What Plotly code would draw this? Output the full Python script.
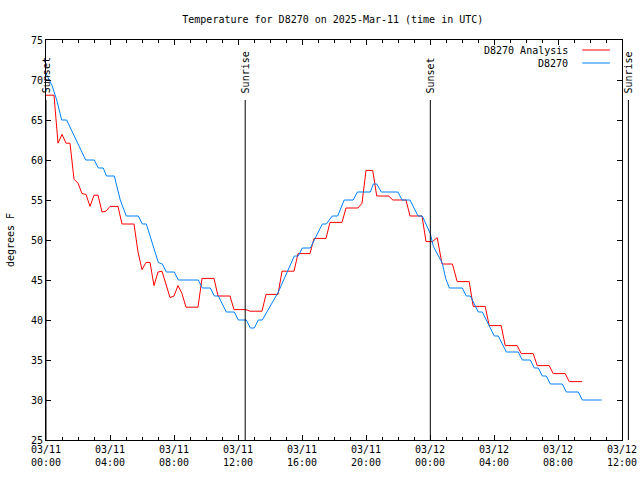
import pandas as pd
import plotly.graph_objects as go

START = pd.Timestamp("2025-03-11 00:00")
END = pd.Timestamp("2025-03-12 12:00")

# D8270 Analysis (red): hours after 03/11 00:00 UTC, degrees F
red_hours = [0, 0.5, 0.75, 1.0, 1.25, 1.5, 1.75, 2.0, 2.25, 2.5, 2.75, 3.0, 3.25, 3.5, 3.75,
             4.0, 4.5, 4.75, 5.5, 5.75, 6.0, 6.25, 6.5, 6.75, 7.0, 7.25, 7.75, 8.0, 8.25,
             8.5, 8.75, 9.5, 9.75, 10.5, 10.75, 11.5, 11.75, 12.5, 12.75, 13.5, 13.75,
             14.5, 14.75, 15.5, 15.75, 16.5, 16.75, 17.5, 17.75, 18.5, 18.75, 19.5, 19.75,
             20.0, 20.42, 20.67, 21.42, 21.67, 22.5, 22.75, 23.5, 23.75, 24.15, 24.45,
             24.75, 25.4, 25.7, 26.45, 26.7, 27.45, 27.7, 28.45, 28.7, 29.45, 29.7, 30.45,
             30.7, 31.45, 31.7, 32.45, 32.7, 33.5]
red_temps = [68.1, 68.1, 62.1, 63.2, 62.1, 62.1, 57.6, 57.1, 55.8, 55.7, 54.2, 55.6, 55.6, 53.5, 53.6,
             54.2, 54.2, 52.0, 52.0, 48.5, 46.3, 47.2, 47.2, 44.3, 46.0, 46.1, 42.8, 43.0, 44.3,
             43.3, 41.6, 41.6, 45.2, 45.2, 43.0, 43.0, 41.3, 41.3, 41.1, 41.1, 43.2,
             43.2, 46.1, 46.1, 48.3, 48.3, 50.2, 50.2, 52.2, 52.2, 54.0, 54.0, 54.6,
             58.7, 58.7, 55.5, 55.5, 55.0, 55.0, 53.0, 53.0, 49.8, 49.8, 50.3,
             47.0, 47.0, 44.8, 44.8, 41.7, 41.7, 39.3, 39.3, 36.8, 36.8, 35.8, 35.8,
             34.3, 34.3, 33.3, 33.3, 32.3, 32.3]

# D8270 observations (blue)
blue_hours = [0, 0.36, 0.67, 0.98, 1.29, 2.48, 3.02, 3.27, 3.58, 3.78, 4.27, 4.64, 5.02, 5.77,
              6.02, 6.27, 7.02, 7.27, 7.52, 8.02, 8.27, 9.52, 9.77, 10.27, 10.52, 10.77,
              11.27, 11.77, 12.02, 12.52, 12.77, 13.02, 13.27, 13.52, 14.52, 15.52, 15.77,
              16.02, 16.52, 17.27, 17.52, 17.89, 18.23, 18.64, 19.2, 19.46, 20.27, 20.46,
              20.67, 20.96, 22.0, 22.25, 22.75, 23.25, 23.52, 24.02, 24.21, 24.77, 24.98,
              25.21, 26.02, 26.27, 26.52, 27.02, 27.27, 28.02, 28.27, 28.77, 29.52, 29.77,
              30.27, 30.52, 30.77, 31.02, 31.27, 31.52, 32.27, 32.52, 33.27, 33.52, 34.73]
blue_temps = [70.8, 69.4, 67.5, 65, 65, 60, 60, 59, 59, 58, 58, 55, 53, 53,
              52, 52, 47.2, 47, 46, 46, 45, 45, 44, 44, 43, 43,
              41, 41, 40, 40, 39, 39, 40, 40, 43.5, 48, 48,
              49, 49, 52, 52, 53, 53, 55, 55, 56, 56, 57,
              57, 56, 56, 55, 55, 53, 53, 50.8, 49.2, 47.1, 45.2,
              44, 44, 43, 43, 41, 41, 38, 38, 36, 36, 35,
              35, 34, 34, 33, 33, 32, 32, 31, 31, 30, 30]

# Sun events (hours after start)
sun_labels = ["Sunset", "Sunrise", "Sunset", "Sunrise"]
sun_hours = [0.0, 12.45, 24.02, 36.4]

FONT = "DejaVu Sans Mono"
red_t = START + pd.to_timedelta(red_hours, unit="h")
blue_t = START + pd.to_timedelta(blue_hours, unit="h")

fig = go.Figure()
fig.add_trace(go.Scatter(x=red_t, y=red_temps, mode="lines", name="D8270 Analysis",
                         line=dict(color="#ff0000", width=1), showlegend=False))
fig.add_trace(go.Scatter(x=blue_t, y=blue_temps, mode="lines", name="D8270",
                         line=dict(color="#0080ff", width=1), showlegend=False))

span = (END - START).total_seconds() / 3600.0
line_top = 0.85
for lab, h in zip(sun_labels, sun_hours):
    px = h / span
    fig.add_shape(type="line", xref="paper", yref="paper", x0=px, x1=px, y0=0, y1=line_top,
                  line=dict(color="black", width=1))
    fig.add_annotation(xref="paper", yref="paper", x=px, y=line_top + 0.012, text=lab,
                       textangle=-90, showarrow=False, xanchor="center", yanchor="bottom",
                       font=dict(family=FONT, size=10, color="black"))

# legend (gnuplot style: text right-aligned, sample to the right)
leg = [("D8270 Analysis", "#ff0000", 0.975), ("D8270", "#0080ff", 0.9425)]
for txt, col, yy in leg:
    fig.add_annotation(xref="paper", yref="paper", x=0.909, y=yy, text=txt, showarrow=False,
                       xanchor="right", yanchor="middle",
                       font=dict(family=FONT, size=10, color="black"))
    fig.add_shape(type="line", xref="paper", yref="paper", x0=0.931, x1=0.979, y0=yy, y1=yy,
                  line=dict(color=col, width=1))

fig.update_layout(
    width=640, height=480,
    margin=dict(l=46, r=18, t=40, b=40, autoexpand=False),
    paper_bgcolor="white", plot_bgcolor="white",
    font=dict(family=FONT, size=10, color="black"),
    title=dict(text="Temperature for D8270 on 2025-Mar-11 (time in UTC)", x=0.52, xanchor="center",
               y=0.96, yanchor="middle", font=dict(family=FONT, size=10, color="black")),
)
fig.update_xaxes(range=[START, END], dtick=4 * 3600000, tick0=START, tickformat="%m/%d<br>%H:%M",
                 ticks="inside", ticklen=5, tickcolor="black", showline=True, linecolor="black",
                 linewidth=1, mirror="ticks", showgrid=False, zeroline=False, automargin=False,
                 minor=dict(dtick=3600000, ticks="inside", ticklen=3, tickcolor="black", showgrid=False),
                 tickfont=dict(family=FONT, size=10, color="black"))
fig.update_yaxes(range=[25, 75], dtick=5, ticks="inside", ticklen=5, tickcolor="black",
                 showline=True, linecolor="black", linewidth=1, mirror="ticks", showgrid=False,
                 zeroline=False, automargin=False,
                 title=dict(text="degrees F", font=dict(family=FONT, size=10), standoff=14),
                 tickfont=dict(family=FONT, size=10, color="black"))

fig.write_html("out.html", config={"displayModeBar": False},
               post_script="document.body.style.margin='0';document.body.style.overflow='hidden';")
